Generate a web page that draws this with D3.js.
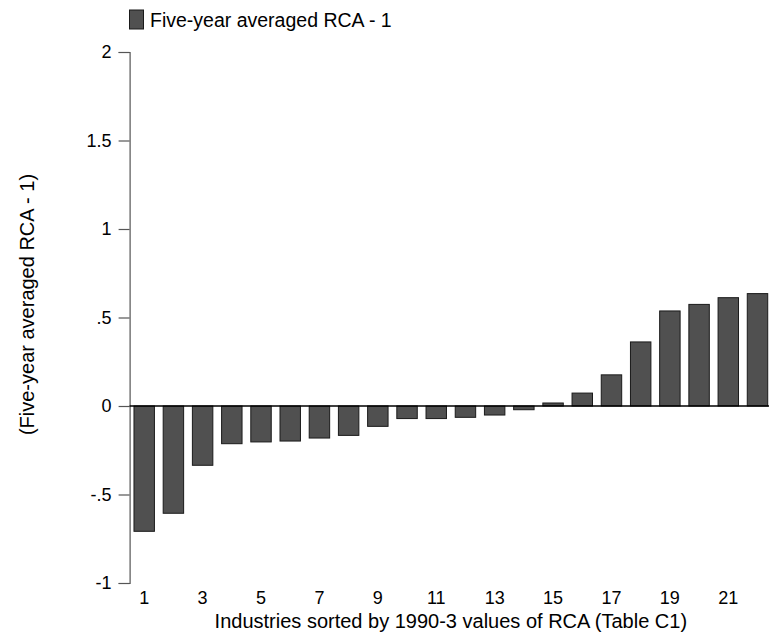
<!DOCTYPE html>
<html>
<head>
<meta charset="utf-8">
<script src="https://cdn.jsdelivr.net/npm/d3@7"></script>
<style>
  html, body { margin: 0; padding: 0; background: #fff; }
  svg { display: block; font-family: "Liberation Sans", Arial, sans-serif; }
</style>
</head>
<body>
<svg id="chart" width="769" height="635"></svg>
<script>
// Industries ranked by their 1990-3 RCA, and the five-year averaged RCA minus one
const industries = d3.range(1, 23);
const rcaMinusOne = [
  -0.708, -0.606, -0.335, -0.213, -0.203, -0.198, -0.181, -0.166, -0.115, -0.071,
  -0.071, -0.064, -0.051, -0.021, 0.017, 0.073, 0.176, 0.362, 0.537, 0.574,
  0.612, 0.635
];
const yTickValues = [-1, -0.5, 0, 0.5, 1, 1.5, 2];
const yTickLabels = ["-1", "-.5", "0", ".5", "1", "1.5", "2"];
const xTickValues = [1, 3, 5, 7, 9, 11, 13, 15, 17, 19, 21];
const seriesName = "Five-year averaged RCA - 1";
const xTitle = "Industries sorted by 1990-3 values of RCA (Table C1)";
const yTitle = "(Five-year averaged RCA - 1)";

(function draw() {
  const svg = d3.select("#chart");
  const W = 769;
  const plotLeft = 129.6, plotRight = 772.1, plotTop = 52, plotBottom = 583;
  const barFill = "#505050";

  const x = d3.scaleBand()
    .domain(industries)
    .range([plotLeft, plotRight])
    .paddingInner(0.3)
    .paddingOuter(0.15);

  const y = d3.scaleLinear().domain([-1, 2]).range([plotBottom, plotTop]);

  // Y axis
  const yAxis = d3.axisLeft(y)
    .tickValues(yTickValues)
    .tickFormat((d, i) => yTickLabels[i])
    .tickSize(11)
    .tickPadding(7);

  const gy = svg.append("g")
    .attr("transform", `translate(${plotLeft},0)`)
    .call(yAxis);
  gy.select(".domain").attr("stroke", "#555").attr("stroke-width", 1.2);
  gy.selectAll(".tick line").attr("stroke", "#555").attr("stroke-width", 1.2);
  gy.selectAll(".tick text")
    .attr("fill", "#000")
    .style("font-size", "18px")
    .style("font-family", "'Liberation Sans', Arial, sans-serif");

  // Bars
  svg.append("g")
    .selectAll("rect")
    .data(industries)
    .join("rect")
    .attr("x", d => x(d))
    .attr("width", x.bandwidth())
    .attr("y", (d, i) => Math.min(y(0), y(rcaMinusOne[i])))
    .attr("height", (d, i) => Math.abs(y(rcaMinusOne[i]) - y(0)))
    .attr("fill", barFill)
    .attr("stroke", "#1a1a1a")
    .attr("stroke-width", 1);

  // Zero reference line
  svg.append("line")
    .attr("x1", plotLeft).attr("x2", W)
    .attr("y1", y(0)).attr("y2", y(0))
    .attr("stroke", "#000")
    .attr("stroke-width", 1.5);

  // X tick labels (no axis line)
  svg.append("g")
    .selectAll("text")
    .data(xTickValues)
    .join("text")
    .attr("x", d => x(d) + x.bandwidth() / 2)
    .attr("y", 604)
    .attr("text-anchor", "middle")
    .style("font-size", "18px")
    .text(d => d);

  // Axis titles
  svg.append("text")
    .attr("x", (plotLeft + plotRight) / 2)
    .attr("y", 628)
    .attr("text-anchor", "middle")
    .style("font-size", "20px")
    .text(xTitle);

  svg.append("text")
    .attr("transform", `translate(34,${(plotTop + plotBottom) / 2 - 13}) rotate(-90)`)
    .attr("text-anchor", "middle")
    .style("font-size", "20px")
    .text(yTitle);

  // Legend
  svg.append("rect")
    .attr("x", 129.5).attr("y", 10)
    .attr("width", 14).attr("height", 19)
    .attr("fill", barFill)
    .attr("stroke", "#1a1a1a")
    .attr("stroke-width", 1);
  svg.append("text")
    .attr("x", 150)
    .attr("y", 27)
    .style("font-size", "19.5px")
    .text(seriesName);
})();
</script>
</body>
</html>
